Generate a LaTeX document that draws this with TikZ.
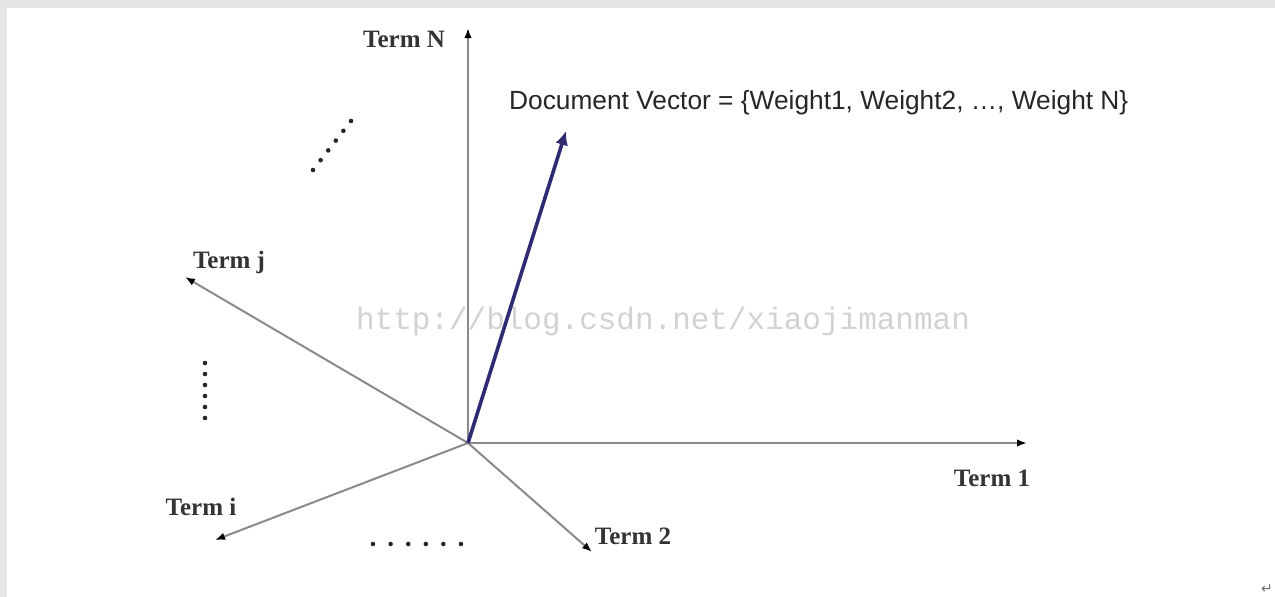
\documentclass[tikz,border=0pt]{standalone}
\usepackage{fontspec}
\setmainfont{Liberation Serif}
\newfontfamily\arialfont{Liberation Sans}
\newfontfamily\monofont{Liberation Mono}
\newfontfamily\dejavu{DejaVu Sans}
\usetikzlibrary{arrows.meta}
\definecolor{axisgray}{HTML}{8A8A8A}
\definecolor{vecblue}{HTML}{2E2B72}
\definecolor{bordergray}{HTML}{E6E6E6}
\definecolor{wmgray}{HTML}{D2D2D2}
\tikzset{
  axis/.style={draw=axisgray, line width=2pt, -{Latex[length=10pt,width=7.5pt,color=black]}},
  docvec/.style={draw=vecblue, line width=3.6pt, -{Latex[length=14pt,width=13pt]}},
  termlabel/.style={font=\fontsize{25}{25}\selectfont\bfseries, text=black!80, inner sep=0pt},
  dotmark/.style={circle, fill=black!85, inner sep=0pt, minimum size=4.6pt},
}
\begin{document}
\begin{tikzpicture}[x=1pt,y=-1pt]
\useasboundingbox (0,0) rectangle (1275,597);
\fill[bordergray] (0,0) rectangle (1275,8);
\fill[bordergray] (0,0) rectangle (7,597);
\fill[white] (7,8) rectangle (1275,597);
% origin and axis ends
\coordinate (O) at (468,443);
\coordinate (eN) at (468,28);
\coordinate (e1) at (1027,443);
\coordinate (ej) at (185,277);
\coordinate (ei) at (215,540);
\coordinate (e2) at (592,552);
\coordinate (ev) at (566,131);
% watermark
\node[font=\fontsize{31}{31}\monofont, text=wmgray, inner sep=0pt] (wm) at (663,321) {http://blog.csdn.net/xiaojimanman};
% axes
\draw[axis] (O) -- (eN);
\draw[axis] (O) -- (e1);
\draw[axis] (O) -- (ej);
\draw[axis] (O) -- (ei);
\draw[axis] (O) -- (e2);
% document vector
\draw[docvec] (O) -- (ev);
% labels
\node[termlabel] (lN) at (404,39) {Term N};
\node[termlabel] (l1) at (992,478) {Term 1};
\node[termlabel] (lj) at (229,262) {Term j};
\node[termlabel] (li) at (201,507) {Term i};
\node[termlabel] (l2) at (633,536) {Term 2};
\node[font=\fontsize{26.3}{26.3}\arialfont, text=black!85, inner sep=0pt, anchor=west] (dv) at (509,103) {Document Vector = \{Weight1, Weight2, \ldots, Weight N\}};
% dots
\foreach \i in {0,...,5} {
  \node[dotmark] (dd\i) at ({313+\i*7.6},{170-\i*9.8}) {};
  \node[dotmark] (dv\i) at (205,{363+\i*11}) {};
  \node[dotmark] (dh\i) at ({373+\i*17.6},544) {};
}
% return mark
\node[font=\fontsize{14}{14}\dejavu, text=black!55, inner sep=0pt] (ret) at (1267,589) {↵};
\end{tikzpicture}
\end{document}
